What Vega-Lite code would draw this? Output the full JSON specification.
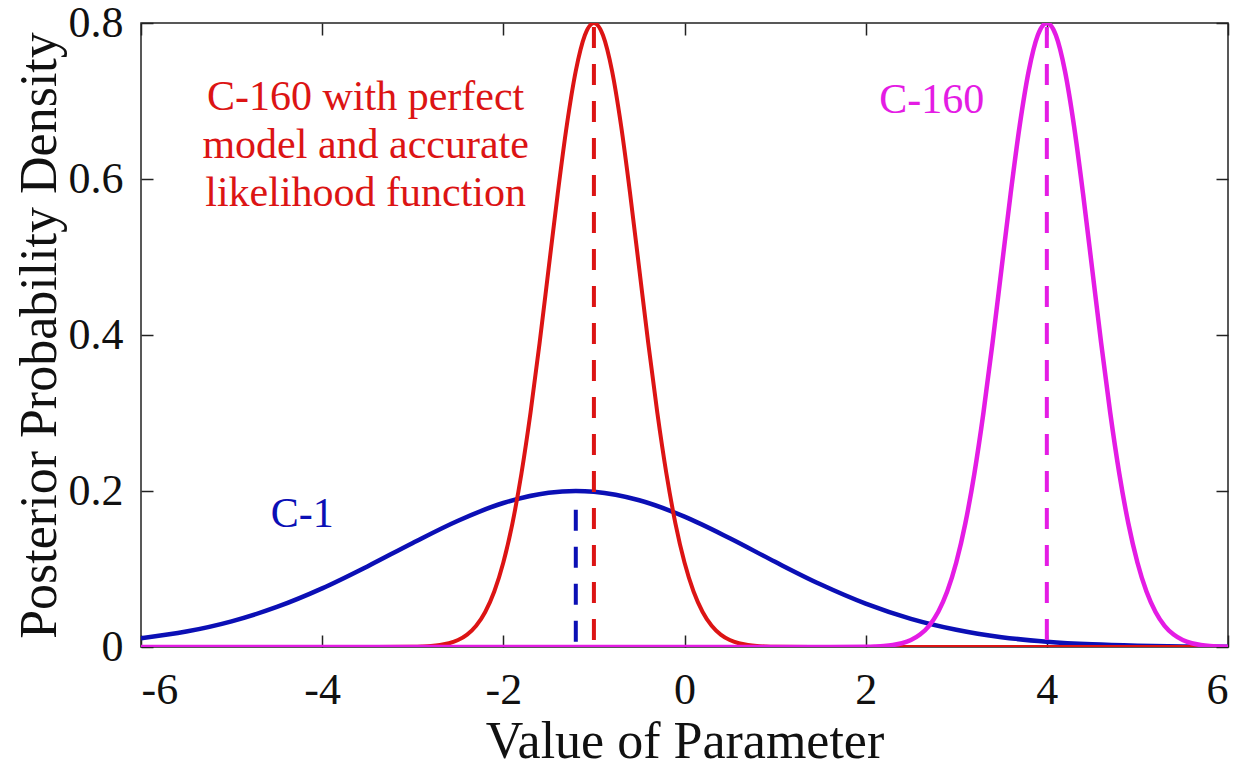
{
  "$schema": "https://vega.github.io/schema/vega-lite/v6.json",
  "width": 1087,
  "height": 624,
  "autosize": "none",
  "padding": {"left": 141, "top": 23, "right": 22, "bottom": 133},
  "background": "white",
  "config": {
    "view": {"stroke": "#222", "strokeWidth": 1.5},
    "font": "Liberation Serif",
    "axis": {"labelFont": "Liberation Serif", "titleFont": "Liberation Serif", "labelColor": "#111", "titleColor": "#111", "titleFontWeight": "normal", "grid": false, "domain": false, "tickColor": "#222", "tickWidth": 1.5}
  },
  "resolve": {"axis": {"x": "independent", "y": "independent"}},
  "datasets": {
    "curves": [
      {"series": "C-1", "x": -6, "y": 0.0112},
      {"series": "C-1", "x": -5.5, "y": 0.0198},
      {"series": "C-1", "x": -5, "y": 0.0329},
      {"series": "C-1", "x": -4.5, "y": 0.0513},
      {"series": "C-1", "x": -4, "y": 0.0751},
      {"series": "C-1", "x": -3.5, "y": 0.1033},
      {"series": "C-1", "x": -3, "y": 0.1334},
      {"series": "C-1", "x": -2.5, "y": 0.1619},
      {"series": "C-1", "x": -2, "y": 0.1846},
      {"series": "C-1", "x": -1.5, "y": 0.1978},
      {"series": "C-1", "x": -1.2, "y": 0.2},
      {"series": "C-1", "x": -1, "y": 0.199},
      {"series": "C-1", "x": -0.5, "y": 0.1881},
      {"series": "C-1", "x": 0, "y": 0.1671},
      {"series": "C-1", "x": 0.5, "y": 0.1394},
      {"series": "C-1", "x": 1, "y": 0.1092},
      {"series": "C-1", "x": 1.5, "y": 0.0804},
      {"series": "C-1", "x": 2, "y": 0.0556},
      {"series": "C-1", "x": 2.5, "y": 0.0361},
      {"series": "C-1", "x": 3, "y": 0.0221},
      {"series": "C-1", "x": 3.5, "y": 0.0126},
      {"series": "C-1", "x": 4, "y": 0.0068},
      {"series": "C-1", "x": 4.5, "y": 0.0034},
      {"series": "C-1", "x": 5, "y": 0.0016},
      {"series": "C-1", "x": 5.5, "y": 0.0007},
      {"series": "C-1", "x": 6, "y": 0.0003},

      {"series": "C-160 perfect", "x": -6, "y": 0},
      {"series": "C-160 perfect", "x": -4, "y": 0},
      {"series": "C-160 perfect", "x": -3.4, "y": 0},
      {"series": "C-160 perfect", "x": -3.0, "y": 0.0003},
      {"series": "C-160 perfect", "x": -2.9, "y": 0.0006},
      {"series": "C-160 perfect", "x": -2.8, "y": 0.0012},
      {"series": "C-160 perfect", "x": -2.7, "y": 0.0025},
      {"series": "C-160 perfect", "x": -2.6, "y": 0.0048},
      {"series": "C-160 perfect", "x": -2.5, "y": 0.0089},
      {"series": "C-160 perfect", "x": -2.4, "y": 0.0159},
      {"series": "C-160 perfect", "x": -2.3, "y": 0.0272},
      {"series": "C-160 perfect", "x": -2.2, "y": 0.0449},
      {"series": "C-160 perfect", "x": -2.1, "y": 0.0711},
      {"series": "C-160 perfect", "x": -2.0, "y": 0.1083},
      {"series": "C-160 perfect", "x": -1.9, "y": 0.1583},
      {"series": "C-160 perfect", "x": -1.8, "y": 0.2224},
      {"series": "C-160 perfect", "x": -1.7, "y": 0.3002},
      {"series": "C-160 perfect", "x": -1.6, "y": 0.3894},
      {"series": "C-160 perfect", "x": -1.5, "y": 0.4852},
      {"series": "C-160 perfect", "x": -1.4, "y": 0.5809},
      {"series": "C-160 perfect", "x": -1.3, "y": 0.6682},
      {"series": "C-160 perfect", "x": -1.2, "y": 0.7385},
      {"series": "C-160 perfect", "x": -1.1, "y": 0.7842},
      {"series": "C-160 perfect", "x": -1.0, "y": 0.8},
      {"series": "C-160 perfect", "x": -0.9, "y": 0.7842},
      {"series": "C-160 perfect", "x": -0.8, "y": 0.7385},
      {"series": "C-160 perfect", "x": -0.7, "y": 0.6682},
      {"series": "C-160 perfect", "x": -0.6, "y": 0.5809},
      {"series": "C-160 perfect", "x": -0.5, "y": 0.4852},
      {"series": "C-160 perfect", "x": -0.4, "y": 0.3894},
      {"series": "C-160 perfect", "x": -0.3, "y": 0.3002},
      {"series": "C-160 perfect", "x": -0.2, "y": 0.2224},
      {"series": "C-160 perfect", "x": -0.1, "y": 0.1583},
      {"series": "C-160 perfect", "x": 0.0, "y": 0.1083},
      {"series": "C-160 perfect", "x": 0.1, "y": 0.0711},
      {"series": "C-160 perfect", "x": 0.2, "y": 0.0449},
      {"series": "C-160 perfect", "x": 0.3, "y": 0.0272},
      {"series": "C-160 perfect", "x": 0.4, "y": 0.0159},
      {"series": "C-160 perfect", "x": 0.5, "y": 0.0089},
      {"series": "C-160 perfect", "x": 0.6, "y": 0.0048},
      {"series": "C-160 perfect", "x": 0.7, "y": 0.0025},
      {"series": "C-160 perfect", "x": 0.8, "y": 0.0012},
      {"series": "C-160 perfect", "x": 0.9, "y": 0.0006},
      {"series": "C-160 perfect", "x": 1.0, "y": 0.0003},
      {"series": "C-160 perfect", "x": 1.4, "y": 0},
      {"series": "C-160 perfect", "x": 3, "y": 0},
      {"series": "C-160 perfect", "x": 4.5, "y": 0},
      {"series": "C-160 perfect", "x": 6, "y": 0},

      {"series": "C-160", "x": -6, "y": 0},
      {"series": "C-160", "x": -4, "y": 0},
      {"series": "C-160", "x": -2, "y": 0},
      {"series": "C-160", "x": 0, "y": 0},
      {"series": "C-160", "x": 1.6, "y": 0},
      {"series": "C-160", "x": 2.0, "y": 0.0003},
      {"series": "C-160", "x": 2.1, "y": 0.0006},
      {"series": "C-160", "x": 2.2, "y": 0.0012},
      {"series": "C-160", "x": 2.3, "y": 0.0025},
      {"series": "C-160", "x": 2.4, "y": 0.0048},
      {"series": "C-160", "x": 2.5, "y": 0.0089},
      {"series": "C-160", "x": 2.6, "y": 0.0159},
      {"series": "C-160", "x": 2.7, "y": 0.0272},
      {"series": "C-160", "x": 2.8, "y": 0.0449},
      {"series": "C-160", "x": 2.9, "y": 0.0711},
      {"series": "C-160", "x": 3.0, "y": 0.1083},
      {"series": "C-160", "x": 3.1, "y": 0.1583},
      {"series": "C-160", "x": 3.2, "y": 0.2224},
      {"series": "C-160", "x": 3.3, "y": 0.3002},
      {"series": "C-160", "x": 3.4, "y": 0.3894},
      {"series": "C-160", "x": 3.5, "y": 0.4852},
      {"series": "C-160", "x": 3.6, "y": 0.5809},
      {"series": "C-160", "x": 3.7, "y": 0.6682},
      {"series": "C-160", "x": 3.8, "y": 0.7385},
      {"series": "C-160", "x": 3.9, "y": 0.7842},
      {"series": "C-160", "x": 4.0, "y": 0.8},
      {"series": "C-160", "x": 4.1, "y": 0.7842},
      {"series": "C-160", "x": 4.2, "y": 0.7385},
      {"series": "C-160", "x": 4.3, "y": 0.6682},
      {"series": "C-160", "x": 4.4, "y": 0.5809},
      {"series": "C-160", "x": 4.5, "y": 0.4852},
      {"series": "C-160", "x": 4.6, "y": 0.3894},
      {"series": "C-160", "x": 4.7, "y": 0.3002},
      {"series": "C-160", "x": 4.8, "y": 0.2224},
      {"series": "C-160", "x": 4.9, "y": 0.1583},
      {"series": "C-160", "x": 5.0, "y": 0.1083},
      {"series": "C-160", "x": 5.1, "y": 0.0711},
      {"series": "C-160", "x": 5.2, "y": 0.0449},
      {"series": "C-160", "x": 5.3, "y": 0.0272},
      {"series": "C-160", "x": 5.4, "y": 0.0159},
      {"series": "C-160", "x": 5.5, "y": 0.0089},
      {"series": "C-160", "x": 5.6, "y": 0.0048},
      {"series": "C-160", "x": 5.7, "y": 0.0025},
      {"series": "C-160", "x": 5.8, "y": 0.0012},
      {"series": "C-160", "x": 5.9, "y": 0.0006},
      {"series": "C-160", "x": 6.0, "y": 0.0003}
    ],
    "means": [
      {"series": "C-1", "x": -1.2, "y": 0, "y2": 0.176},
      {"series": "C-160 perfect", "x": -1.0, "y": 0, "y2": 0.795},
      {"series": "C-160", "x": 4.0, "y": 0, "y2": 0.795}
    ],
    "labels": [
      {"series": "C-160 perfect", "x": -3.52, "y": 0.688, "label": "C-160 with perfect\nmodel and accurate\nlikelihood function"},
      {"series": "C-160", "x": 2.73, "y": 0.685, "label": "C-160"},
      {"series": "C-1", "x": -4.22, "y": 0.154, "label": "C-1"}
    ]
  },
  "layer": [
    {
      "data": {"name": "curves"},
      "transform": [{"filter": "datum.series === 'C-1'"}],
      "mark": {"type": "line", "interpolate": "monotone", "color": "#0b0fb5", "strokeWidth": 4.5, "clip": true},
      "encoding": {
        "x": {"field": "x", "type": "quantitative", "scale": {"domain": [-6, 6], "nice": false, "zero": false},
          "axis": {"orient": "bottom", "values": [-6, -4, -2, 0, 2, 4, 6], "labelFontSize": 44, "tickSize": -12, "labelPadding": 33, "labelExpr": "datum.value < 0 ? '-' + abs(datum.value) : '' + datum.value", "title": "Value of Parameter", "titleFontSize": 52, "titlePadding": 4}},
        "y": {"field": "y", "type": "quantitative", "scale": {"domain": [0, 0.8], "nice": false},
          "axis": {"orient": "left", "values": [0, 0.2, 0.4, 0.6, 0.8], "labelFontSize": 44, "tickSize": -12, "labelPadding": 30, "labelExpr": "datum.value === 0 ? '0' : format(datum.value, '.1f')", "title": "Posterior Probability Density", "titleFontSize": 52, "titlePadding": 2}}
      }
    },
    {
      "data": {"name": "curves"},
      "transform": [{"filter": "datum.series === 'C-160 perfect'"}],
      "mark": {"type": "line", "interpolate": "monotone", "color": "#dc1414", "strokeWidth": 4, "clip": true},
      "encoding": {
        "x": {"field": "x", "type": "quantitative", "axis": {"orient": "top", "values": [-6, -4, -2, 0, 2, 4, 6], "labels": false, "tickSize": -12, "title": null}},
        "y": {"field": "y", "type": "quantitative", "axis": {"orient": "right", "values": [0, 0.2, 0.4, 0.6, 0.8], "labels": false, "tickSize": -12, "title": null}}
      }
    },
    {
      "data": {"name": "curves"},
      "transform": [{"filter": "datum.series === 'C-160'"}],
      "mark": {"type": "line", "interpolate": "monotone", "color": "#e41ce4", "strokeWidth": 4.5, "clip": true},
      "encoding": {
        "x": {"field": "x", "type": "quantitative", "axis": null},
        "y": {"field": "y", "type": "quantitative", "axis": null}
      }
    },
    {
      "data": {"name": "means"},
      "mark": {"type": "rule", "strokeWidth": 4, "strokeDash": [21, 16]},
      "encoding": {
        "x": {"field": "x", "type": "quantitative", "axis": null},
        "y": {"field": "y2", "type": "quantitative", "axis": null},
        "y2": {"field": "y"},
        "color": {"field": "series", "type": "nominal", "legend": null,
          "scale": {"domain": ["C-1", "C-160 perfect", "C-160"], "range": ["#0b0fb5", "#dc1414", "#e41ce4"]}}
      }
    },
    {
      "data": {"name": "labels"},
      "mark": {"type": "text", "font": "Liberation Serif", "fontSize": 42, "lineBreak": "\n", "lineHeight": 48, "align": "center", "baseline": "alphabetic"},
      "encoding": {
        "x": {"field": "x", "type": "quantitative", "axis": null},
        "y": {"field": "y", "type": "quantitative", "axis": null},
        "text": {"field": "label"},
        "color": {"field": "series", "type": "nominal", "legend": null,
          "scale": {"domain": ["C-1", "C-160 perfect", "C-160"], "range": ["#1212a8", "#bc000e", "#d41ed4"]}}
      }
    }
  ]
}
